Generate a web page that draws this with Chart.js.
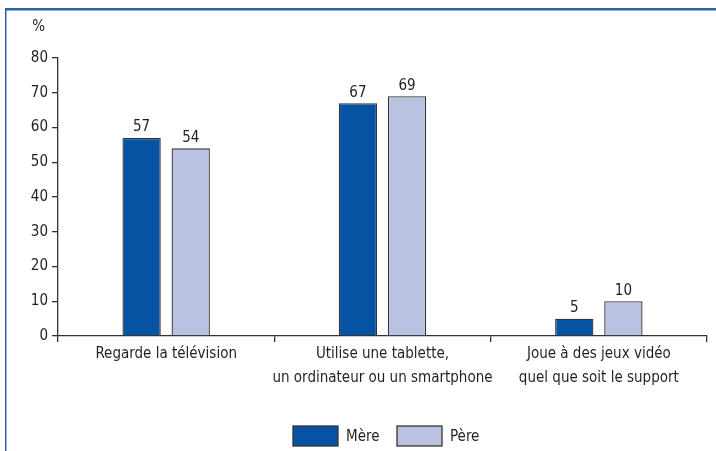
<!DOCTYPE html>
<html lang="fr">
<head>
  <meta charset="UTF-8">
  <title>Activités des parents</title>
  <style>
    * {
      margin: 0;
      padding: 0;
      box-sizing: border-box;
    }

    body {
      background: #fff;
      width: 716px;
      height: 451px;
      overflow: hidden;
    }

    .chart-box {
      position: relative;
      width: 716px;
      height: 451px;
    }
  </style>
  <script src="https://cdn.jsdelivr.net/npm/chart.js"></script>
</head>
<body>
  <div class="chart-box">
    <canvas id="parentsChart"></canvas>
  </div>

  <script>
    // Categories (multi-line labels) and the two series, in %
    const categories = [
      ['Regarde la télévision'],
      ['Utilise une tablette,', 'un ordinateur ou un smartphone'],
      ['Joue à des jeux vidéo', 'quel que soit le support']
    ];
    const seriesNames = ['Mère', 'Père'];
    const mereValues = [57, 67, 5];
    const pereValues = [54, 69, 10];
    const yTicks = [0, 10, 20, 30, 40, 50, 60, 70, 80];

    const FONT = "'Liberation Sans Narrow', 'DejaVu Sans Condensed', 'Arial Narrow', sans-serif";
    const TEXT = '#231f20';
    const AXIS = '#333333';
    const colors = ['#0652a3', '#b9c2e1'];

    // Frame lines, "%" unit, value labels and the legend
    const decorations = {
      id: 'decorations',
      beforeDraw(chart) {
        const ctx = chart.ctx;
        ctx.save();
        ctx.fillStyle = '#8fb0d8';
        ctx.fillRect(5, 10, 711, 1);
        ctx.fillStyle = '#2f63a8';
        ctx.fillRect(5, 8, 711, 2);
        ctx.fillRect(5, 8, 1.5, 443);
        ctx.restore();
      },
      afterDatasetsDraw(chart) {
        const ctx = chart.ctx;
        ctx.save();
        ctx.fillStyle = TEXT;
        ctx.font = '15px ' + FONT;

        // unit above the value axis
        ctx.textAlign = 'right';
        ctx.textBaseline = 'alphabetic';
        ctx.fillText('%', 45, 31);

        // values above each bar
        ctx.textAlign = 'center';
        ctx.textBaseline = 'bottom';
        chart.data.datasets.forEach((ds, i) => {
          chart.getDatasetMeta(i).data.forEach((bar, j) => {
            ctx.fillText(String(ds.data[j]), bar.x, bar.y - 3);
          });
        });

        // legend
        const boxW = 45, boxH = 20, top = 426;
        const starts = [293, 397];
        ctx.textAlign = 'left';
        ctx.textBaseline = 'middle';
        chart.data.datasets.forEach((ds, i) => {
          const x = starts[i];
          ctx.fillStyle = ds.backgroundColor;
          ctx.fillRect(x, top, boxW, boxH);
          ctx.strokeStyle = AXIS;
          ctx.lineWidth = 1.3;
          ctx.strokeRect(x, top, boxW, boxH);
          ctx.fillStyle = TEXT;
          ctx.fillText(ds.label, x + boxW + 8, top + boxH / 2 + 1);
        });
        ctx.restore();
      }
    };

    const ctx = document.getElementById('parentsChart').getContext('2d');
    new Chart(ctx, {
      type: 'bar',
      data: {
        labels: categories,
        datasets: [
          {
            label: seriesNames[0],
            data: mereValues,
            backgroundColor: colors[0],
            borderColor: AXIS,
            borderWidth: 1.3,
            categoryPercentage: 0.454,
            barPercentage: 0.78
          },
          {
            label: seriesNames[1],
            data: pereValues,
            backgroundColor: colors[1],
            borderColor: AXIS,
            borderWidth: 1.3,
            categoryPercentage: 0.454,
            barPercentage: 0.78
          }
        ]
      },
      options: {
        responsive: true,
        maintainAspectRatio: false,
        animation: false,
        events: [],
        layout: {
          padding: { top: 58, left: 0, right: 9, bottom: 55 }
        },
        plugins: {
          legend: { display: false },
          tooltip: { enabled: false }
        },
        scales: {
          x: {
            offset: true,
            border: { color: AXIS, width: 1.3 },
            grid: {
              offset: true,
              drawOnChartArea: false,
              drawTicks: true,
              tickLength: 6,
              color: AXIS,
              lineWidth: 1.3
            },
            ticks: {
              color: TEXT,
              font: { family: FONT, size: 15, lineHeight: 1.6 },
              padding: 0,
              maxRotation: 0,
              autoSkip: false
            },
            afterFit(scale) { scale.height = 60; }
          },
          y: {
            min: 0,
            max: 80,
            border: { color: AXIS, width: 1.3 },
            grid: {
              drawOnChartArea: false,
              drawTicks: true,
              tickLength: 6,
              color: AXIS,
              lineWidth: 1.3
            },
            afterBuildTicks(scale) {
              scale.ticks = yTicks.map(v => ({ value: v }));
            },
            ticks: {
              color: TEXT,
              font: { family: FONT, size: 15 },
              padding: 4
            },
            afterFit(scale) { scale.width = 58; }
          }
        }
      },
      plugins: [decorations]
    });
  </script>
</body>
</html>
